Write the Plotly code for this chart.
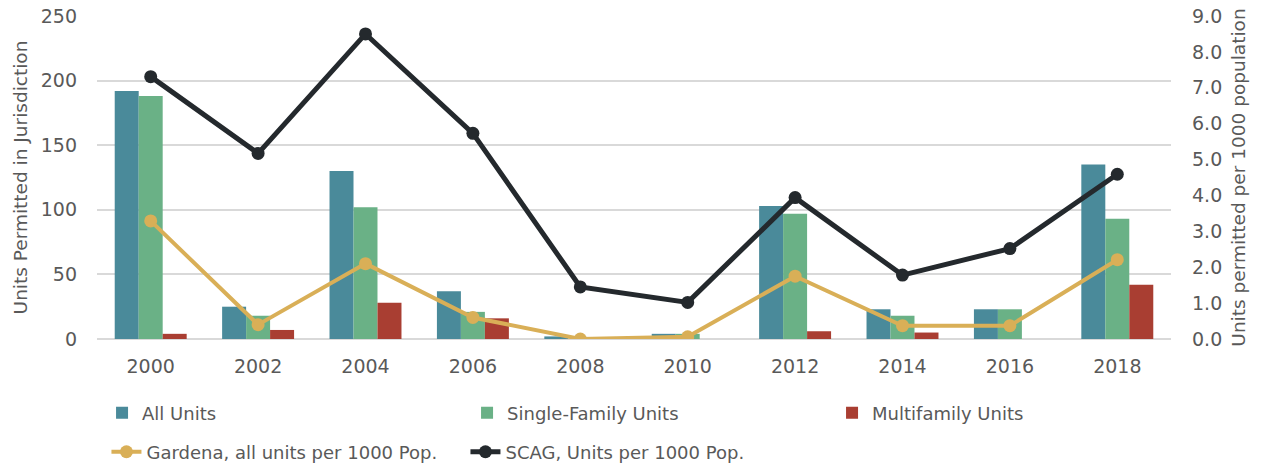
"""
Housing permits chart - bars on left axis, per-1000 lines on right axis
"""

import plotly.graph_objects as go

years = ["2000", "2002", "2004", "2006", "2008", "2010", "2012", "2014", "2016", "2018"]

all_units = [192, 25, 130, 37, 2, 4, 103, 23, 23, 135]
single_family = [188, 18, 102, 21, 0, 4, 97, 18, 23, 93]
multifamily = [4, 7, 28, 16, 0, 0, 6, 5, 0, 42]

gardena_per_1000 = [3.29, 0.40, 2.10, 0.60, 0.0, 0.06, 1.75, 0.37, 0.37, 2.21]
scag_per_1000 = [7.31, 5.17, 8.50, 5.73, 1.45, 1.02, 3.94, 1.78, 2.52, 4.59]

text_color = "#595959"
font_family = "DejaVu Sans, Arial"

fig = go.Figure()

# 막대 (왼쪽 축)
fig.add_trace(go.Bar(x=years, y=all_units, name="All Units",
                     marker=dict(color="#4A8A9A", line=dict(width=0)), legend="legend"))
fig.add_trace(go.Bar(x=years, y=single_family, name="Single-Family Units",
                     marker=dict(color="#6AB186", line=dict(width=0)), legend="legend"))
fig.add_trace(go.Bar(x=years, y=multifamily, name="Multifamily Units",
                     marker=dict(color="#A93E32", line=dict(width=0)), legend="legend3"))

# 선 (오른쪽 축)
fig.add_trace(go.Scatter(x=years, y=gardena_per_1000, name="Gardena, all units per 1000 Pop.",
                         mode="lines+markers", yaxis="y2", legend="legend2",
                         line=dict(color="#D9AF57", width=4),
                         marker=dict(color="#D9AF57", size=13)))
fig.add_trace(go.Scatter(x=years, y=scag_per_1000, name="SCAG, Units per 1000 Pop.",
                         mode="lines+markers", yaxis="y2", legend="legend2",
                         line=dict(color="#24292D", width=5),
                         marker=dict(color="#24292D", size=13)))

legend_common = dict(
    orientation="h",
    xanchor="left",
    yanchor="middle",
    font=dict(family=font_family, size=18, color=text_color),
    bgcolor="rgba(0,0,0,0)",
)

# 페이지 기본 여백(8px)을 고려한 크기
fig.update_layout(
    width=1254,
    height=459,
    margin=dict(l=89, r=91, t=8, b=128, autoexpand=False),
    plot_bgcolor="white",
    paper_bgcolor="white",
    barmode="group",
    bargap=0.33,
    bargroupgap=0,
    font=dict(family=font_family, color=text_color),
    legend=dict(x=0.0047, y=-0.229, entrywidth=320, **legend_common),
    legend3=dict(x=0.6844, y=-0.229, **legend_common),
    legend2=dict(x=0.0088, y=-0.350, entrywidth=314, **legend_common),
    xaxis=dict(
        type="category",
        range=[-0.5, len(years) - 0.5],
        tickfont=dict(size=19, color=text_color),
        showgrid=False,
        showline=False,
        ticks="",
        ticklabelstandoff=14,
        automargin=False,
    ),
    yaxis=dict(
        range=[0, 250],
        dtick=50,
        tickfont=dict(size=19, color=text_color),
        gridcolor="#D9D9D9",
        gridwidth=2,
        zeroline=True,
        zerolinecolor="#D9D9D9",
        zerolinewidth=2,
        ticklabelstandoff=19,
        ticklabeloverflow="allow",
        automargin=False,
        title=dict(text="Units Permitted in Jurisdiction",
                   font=dict(size=18.5, color=text_color), standoff=8),
    ),
    yaxis2=dict(
        range=[0, 9],
        dtick=1,
        tickformat=".1f",
        overlaying="y",
        side="right",
        showgrid=False,
        zeroline=False,
        tickfont=dict(size=19, color=text_color),
        ticklabelstandoff=20,
        ticklabeloverflow="allow",
        automargin=False,
        title=dict(text="Units permitted per 1000 population",
                   font=dict(size=18.5, color=text_color), standoff=10),
    ),
)

fig.write_html("out.html")
